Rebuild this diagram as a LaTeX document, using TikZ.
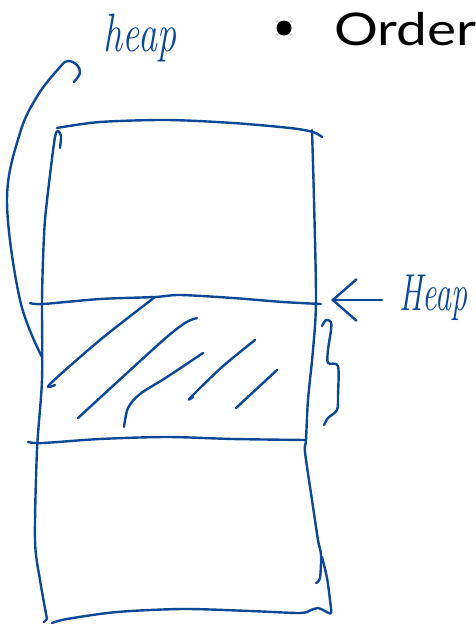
\documentclass[tikz,border=0pt]{standalone}
\usepackage{fontspec}
\newfontfamily\slidefont{Lato}
\usetikzlibrary{arrows.meta,positioning}

\definecolor{inkblue}{RGB}{12,72,150}

\tikzset{
  ink/.style={draw=inkblue, line width=2.4pt, line cap=round, line join=round},
  hand/.style={text=inkblue, font=\fontsize{40}{40}\selectfont\itshape, inner sep=0pt},
}

\begin{document}
\begin{tikzpicture}[x=1pt, y=-1pt]
\useasboundingbox (0,0) rectangle (476,627);

% Title
\node[circle, fill=black, minimum size=15pt, inner sep=0pt] (dot) at (284,28) {};
\node[anchor=west, inner sep=0pt, xscale=1.22, font=\slidefont\fontsize{45}{45}\selectfont] (order) at (334,29) {Order};

% Labels
\node[hand, xscale=0.95, yscale=1.35] (heapword) at (140,38) {heap};
\node[hand, xscale=0.8, yscale=1.3, anchor=base west] (heaplabel) at (399,310) {Heap};
\coordinate (heaptip) at (331,300);
\coordinate (curvefoot) at (42,357);

% Outer frame
\draw[ink] plot[smooth, tension=0.5] coordinates {(57,128) (100,122) (167,120) (233,123) (290,128) (313,132) (322,137)};
\draw[ink] plot[smooth, tension=0.5] coordinates {(60,148) (61,136) (58,131) (55,137) (50,175) (45,220) (43,260) (42,303) (42,380) (37,450) (35,540) (40,580) (47,619)};
\draw[ink] (47,619) -- (44,622);
\draw[ink] plot[smooth, tension=0.5] coordinates {(312,130) (314,200) (316,300) (313,350) (308,400) (306,440) (305,452) (312,500) (318,540) (321,555) (320,578) (316,583)};
\draw[ink] plot[smooth, tension=0.5] coordinates {(322,557) (327,578) (330,600) (331,613) (325,611) (318,608) (311,610) (300,613) (250,611) (183,609) (117,612) (67,619) (52,623)};

% Heap region
\draw[ink] plot[smooth, tension=0.5] coordinates {(30,303) (43,304) (100,299) (155,297) (180,295) (233,298) (283,302) (321,304)};
\draw[ink] plot[smooth, tension=0.5] coordinates {(28,442) (43,443) (100,439) (167,437) (233,439) (305,440)};

% hatching
\draw[ink] plot[smooth, tension=0.5] coordinates {(155,297) (100,340) (50,384) (55,385)};
\draw[ink] plot[smooth, tension=0.5] coordinates {(197,318) (185,323) (160,343) (78,418)};
\draw[ink] plot[smooth, tension=0.5] coordinates {(203,353) (167,377) (140,394) (128,408) (124,427)};
\draw[ink] plot[smooth, tension=0.5] coordinates {(255,340) (222,367) (190,398) (193,397)};
\draw[ink] (277,370) -- (236,408);

% brace
\draw[ink] plot[smooth, tension=0.5] coordinates {(322,326) (326,320) (331,322) (331,330) (328,350) (328,363) (338,366) (338,395) (337,410) (328,418) (324,425)};

% arrows
\draw[ink, shorten <=17pt, -{Straight Barb[length=24pt, width=42pt]}] (heaplabel.west |- heaptip) -- (heaptip);
\draw[ink] plot[smooth, tension=0.6] coordinates {(curvefoot) (20,300) (7,200) (20,133) (38,95) (60,67) (68,61) (77,65) (80,73) (74,82)};

\end{tikzpicture}
\end{document}
